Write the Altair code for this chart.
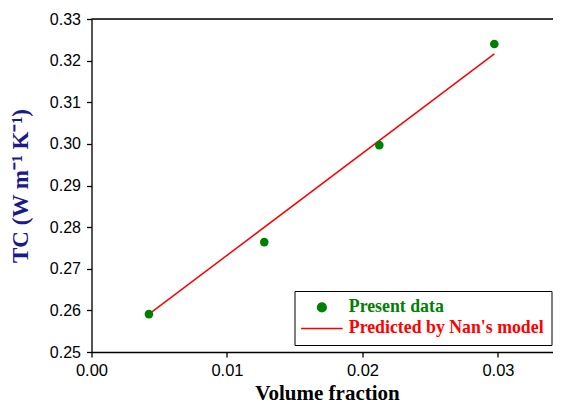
import altair as alt
import pandas as pd

# Data
vol_frac = [0.00424, 0.01275, 0.02124, 0.02973]
tc_present = [0.2591, 0.2764, 0.2997, 0.3240]
model_x = [0.00424, 0.02973]
model_y = [0.2591, 0.3216]
series = ["Present data", "Predicted by Nan's model"]
x_ticks = [0.0, 0.01, 0.02, 0.03]
y_ticks = [0.25, 0.26, 0.27, 0.28, 0.29, 0.30, 0.31, 0.32, 0.33]

pts = pd.DataFrame({"x": vol_frac, "y": tc_present, "s": series[0]})
mdl = pd.DataFrame({"x": model_x, "y": model_y, "s": series[1]})

W, H = 461.5, 333
xscale = alt.Scale(domain=[0, 0.03406], nice=False)
yscale = alt.Scale(domain=[0.25, 0.33], nice=False, zero=False)
cscale = alt.Scale(domain=series, range=["#008000", "#ff0000"])

isP = "datum.value == 'Present data'"
legend = alt.Legend(
    title=None,
    orient="none",
    legendX=203,
    legendY=272,
    strokeColor="black",
    fillColor="white",
    padding=7.5,
    symbolType=alt.ExprRef(f"{isP} ? 'circle' : 'M-4.8,0H4.8'"),
    symbolSize=75,
    symbolOffset=11,
    symbolFillColor=alt.ExprRef(f"{isP} ? '#008000' : 'transparent'"),
    symbolStrokeColor=alt.ExprRef(f"{isP} ? 'transparent' : '#ff0000'"),
    symbolStrokeWidth=1.5,
    symbolOpacity=1,
    labelColor=alt.ExprRef(f"{isP} ? '#008000' : '#ff0000'"),
    labelFont="Liberation Serif",
    labelFontSize=17.8,
    labelFontWeight="bold",
    labelOffset=18,
    rowPadding=2,
    labelLimit=400,
)

xaxis = alt.Axis(
    values=x_ticks, format=".2f", title="Volume fraction",
    titleFont="Liberation Serif", titleFontSize=21, titleFontWeight="bold",
    titleColor="black", titlePadding=4, titleX=235.5,
    labelFont="Liberation Sans", labelFontSize=16.5, labelColor="black",
    labelPadding=5, labelFlush=False,
    tickSize=5, tickColor="black", domainColor="black",
    tickWidth=1.3, domainWidth=1.3, grid=False,
)
yaxis = alt.Axis(
    values=y_ticks, format=".2f", title="TC (W m⁻¹ K⁻¹)",
    titleFont="Liberation Serif", titleFontSize=23, titleFontWeight="bold",
    titleColor="#1a1a8c", titlePadding=17,
    labelFont="Liberation Sans", labelFontSize=16, labelColor="black",
    labelPadding=6, labelFlush=False,
    tickSize=5, tickColor="black", domainColor="black",
    tickWidth=1.3, domainWidth=1.3, grid=False,
)

points = alt.Chart(pts).mark_point(filled=True, size=75, opacity=1).encode(
    x=alt.X("x:Q", scale=xscale, axis=xaxis),
    y=alt.Y("y:Q", scale=yscale, axis=yaxis),
    color=alt.Color("s:N", scale=cscale, legend=legend),
)
line = alt.Chart(mdl).mark_line(strokeWidth=1.5).encode(
    x="x:Q", y="y:Q",
    color=alt.Color("s:N", scale=cscale, legend=legend),
)
top = alt.Chart(pd.DataFrame({"y": [0.33]})).mark_rule(color="black", strokeWidth=1.3).encode(
    y=alt.Y("y:Q", scale=yscale)
)

chart = alt.layer(line, points, top).properties(
    width=W, height=H,
    autosize=alt.AutoSizeParams(type="none"),
    padding={"left": 83.5, "top": 11, "right": 0, "bottom": 55},
).configure_view(stroke=None).configure(background="white")

chart.save("out.html", embed_options={"renderer": "svg", "actions": False})
